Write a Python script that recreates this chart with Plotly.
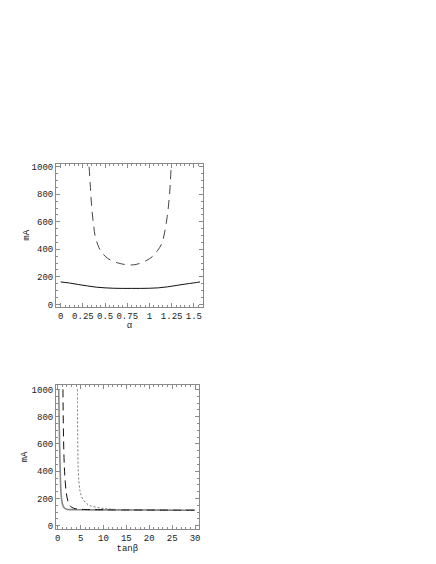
import plotly.graph_objects as go

# ── top panel: mA versus alpha ─────────────────────────────────────────────
alpha_solid = [0, 0.1, 0.2, 0.3, 0.4, 0.5, 0.6, 0.7, 0.8, 0.9, 1.0, 1.1, 1.2, 1.3, 1.4, 1.5, 1.57]
mA_solid = [163, 155, 144, 134, 125, 120, 117, 116, 116, 116, 117, 120, 127, 137, 147, 156, 163]

alpha_dash = [0.32, 0.335, 0.35, 0.37, 0.39, 0.42, 0.445, 0.5, 0.56, 0.65, 0.72, 0.78,
              0.85, 0.9, 0.97, 1.03, 1.09, 1.14, 1.17, 1.2, 1.225, 1.245]
mA_dash = [1000, 850, 700, 580, 490, 430, 395, 350, 322, 300, 290, 286,
           290, 300, 320, 346, 390, 443, 520, 637, 790, 1000]

# ── bottom panel: mA versus tan(beta) ─────────────────────────────────────
tb_solid = [0.22, 0.3, 0.4, 0.5, 0.6, 0.7, 0.85, 1.09, 1.4, 1.97, 3, 5, 10, 15, 20, 25, 30]
mA_tb_solid = [1000, 820, 620, 470, 340, 250, 195, 153, 132, 120, 118, 117, 116, 115, 115, 114, 114]

tb_dash = [1.15, 1.2, 1.28, 1.38, 1.5, 1.65, 1.85, 2.05, 2.4, 2.8, 3.5, 4.5, 6, 10, 15, 20, 25, 30]
mA_tb_dash = [1000, 820, 640, 500, 400, 320, 250, 205, 165, 142, 128, 122, 119, 117, 116, 115, 114, 114]

tb_dot = [4.3, 4.33, 4.37, 4.42, 4.5, 4.65, 4.85, 5.1, 5.5, 6.3, 7.0, 8.5, 10, 12, 15, 20, 25, 30]
mA_tb_dot = [1000, 820, 640, 500, 400, 320, 260, 225, 195, 163, 148, 135, 127, 121, 118, 116, 115, 114]

FONT = dict(family="Liberation Mono, DejaVu Sans Mono, monospace", size=9, color="#222")
FRAME = "#8a8a8a"


def _axis(domain, rng, dtick, minor_dtick, title, standoff):
    return dict(
        domain=domain, range=rng, dtick=dtick, tick0=0,
        showgrid=False, zeroline=False, automargin=False,
        showline=True, linecolor=FRAME, linewidth=1, mirror="allticks",
        ticks="inside", ticklen=4, tickcolor=FRAME, tickwidth=1,
        minor=dict(ticks="inside", ticklen=2, dtick=minor_dtick, tickcolor=FRAME, showgrid=False),
        tickfont=FONT,
        title=dict(text=title, font=FONT, standoff=standoff),
    )


fig = go.Figure()

fig.add_trace(go.Scatter(x=alpha_solid, y=mA_solid, mode="lines",
                         line=dict(color="#111", width=1, shape="spline"),
                         xaxis="x", yaxis="y"))
fig.add_trace(go.Scatter(x=alpha_dash, y=mA_dash, mode="lines",
                         line=dict(color="#444", width=1, dash="9px,6px", shape="spline"),
                         xaxis="x", yaxis="y"))

fig.add_trace(go.Scatter(x=tb_solid, y=mA_tb_solid, mode="lines",
                         line=dict(color="#888", width=1.6, shape="spline"),
                         xaxis="x2", yaxis="y2"))
fig.add_trace(go.Scatter(x=tb_dash, y=mA_tb_dash, mode="lines",
                         line=dict(color="#111", width=1, dash="8px,5px", shape="spline"),
                         xaxis="x2", yaxis="y2"))
fig.add_trace(go.Scatter(x=tb_dot, y=mA_tb_dot, mode="lines",
                         line=dict(color="#777", width=1, dash="2px,2px", shape="spline"),
                         xaxis="x2", yaxis="y2"))

fig.update_layout(
    width=436, height=564,
    margin=dict(l=0, r=0, t=0, b=0),
    paper_bgcolor="white", plot_bgcolor="white",
    showlegend=False,
    font=FONT,
    xaxis=dict(_axis([56 / 436, 202.7 / 436], [-0.053, 1.60], 0.25, 0.05, "α", 1), anchor="y"),
    yaxis=dict(_axis([1 - 306.7 / 564, 1 - 164 / 564], [-17, 1020], 200, 50, "mA", 0), anchor="x"),
    xaxis2=dict(_axis([56 / 436, 198.7 / 436], [-0.37, 30.8], 5, 1, "tanβ", 1), anchor="y2"),
    yaxis2=dict(_axis([1 - 529 / 564, 1 - 385 / 564], [-24, 1032], 200, 50, "mA", 2), anchor="x2"),
)

fig.write_html("out.html", config={"displayModeBar": False},
               post_script="document.body.style.margin='0';")
